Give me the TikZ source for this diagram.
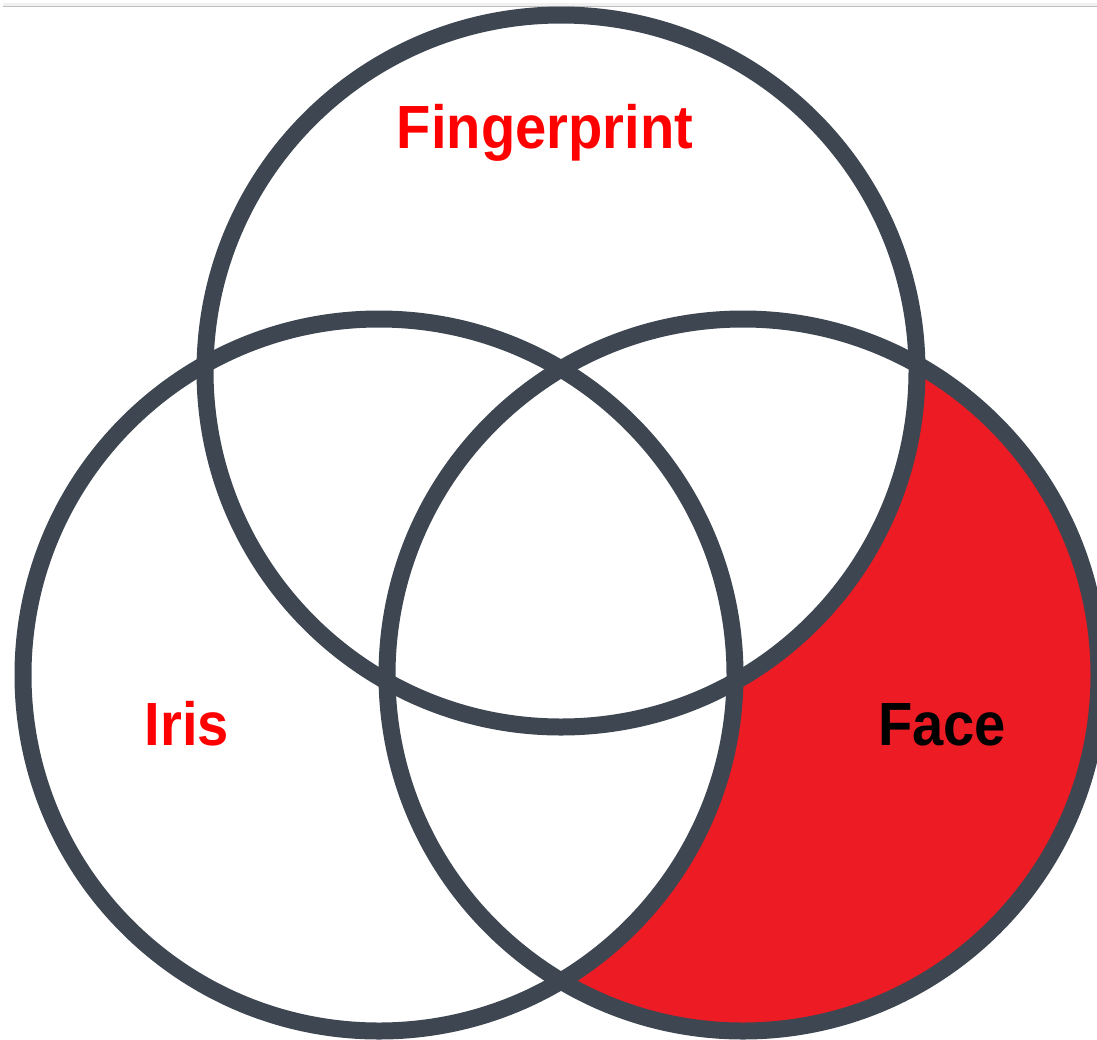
\documentclass[tikz,border=0pt]{standalone}
\usepackage{fontspec}
\setmainfont{Liberation Sans}
\definecolor{ring}{HTML}{3D4651}
\definecolor{facered}{HTML}{ED1C24}
\definecolor{labelred}{HTML}{FF0000}
\tikzset{
  ringline/.style={draw=ring, line width=17pt},
  lab/.style={anchor=base, inner sep=0pt, font=\bfseries\fontsize{61}{61}\selectfont},
}
\newcommand{\narrow}[1]{\scalebox{0.92}[1]{#1}}
\begin{document}
\begin{tikzpicture}[x=1pt,y=-1pt]
\useasboundingbox (0,0) rectangle (1097,1039);
\fill[white] (0,0) rectangle (1097,1039);
% screenshot top strip
\fill[black!6] (3,2.5) rectangle (1097,6);
\draw[black!25, line width=1.5pt] (3,6.5) -- (1097,6.5);
\coordinate (ct) at (561,371);
\coordinate (cl) at (379,675);
\coordinate (cr) at (743,675);
% red region: right circle minus the other two
\fill[facered] (cr) circle (356pt);
\fill[white] (ct) circle (356pt);
\fill[white] (cl) circle (356pt);
% rings
\draw[ringline] (ct) circle (356pt);
\draw[ringline] (cl) circle (356pt);
\draw[ringline] (cr) circle (356pt);
% labels
\node[lab, text=labelred] (fp) at (545,148) {\narrow{Fingerprint}};
\node[lab, text=labelred] (iris) at (187,745) {\narrow{Iris}};
\node[lab, text=black] (face) at (942,745) {\narrow{Face}};
\end{tikzpicture}
\end{document}
